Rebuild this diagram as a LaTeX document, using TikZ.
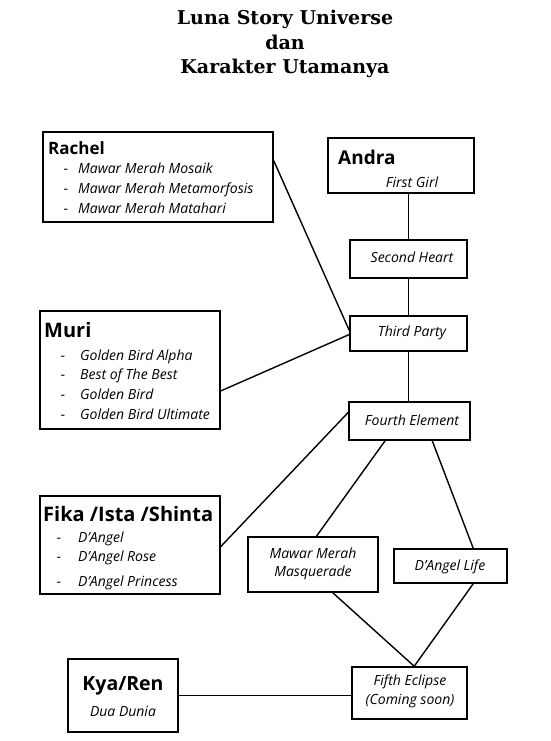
\documentclass[tikz,border=0pt]{standalone}
\usepackage{fontspec}
\setmainfont{Open Sans}
\newfontfamily\titlefont{DejaVu Serif}
\usetikzlibrary{positioning}

\begin{document}
\begin{tikzpicture}[x=1pt,y=-1pt,
  box/.style={draw,line width=1.5pt,inner sep=0pt},
  item/.style={inner sep=0pt,font=\fontsize{14}{17}\selectfont\itshape},
  bullet/.style={inner sep=0pt,anchor=base,font=\fontsize{14}{17}\selectfont},
  head/.style={inner sep=0pt,anchor=west,font=\fontsize{#1}{#1}\selectfont\bfseries},
  link/.style={line width=1.4pt}]
  \useasboundingbox (0,0) rectangle (550,741);

  \node[align=center,font=\titlefont\fontsize{19}{24.5}\selectfont\bfseries] (title)
    at (285,44) {Luna Story Universe\\dan\\Karakter Utamanya};

  % boxes
  \node[box,minimum width=230,minimum height=90] (rachel) at (158,177) {};
  \node[box,minimum width=146,minimum height=55] (andra) at (401,165.5) {};
  \node[box,minimum width=117,minimum height=38] (second) at (408.5,259) {};
  \node[box,minimum width=117,minimum height=35] (third) at (408.5,333.5) {};
  \node[box,minimum width=121,minimum height=38] (fourth) at (409.5,421) {};
  \node[box,minimum width=180,minimum height=118] (muri) at (130,370) {};
  \node[box,minimum width=180,minimum height=98] (fika) at (130,545) {};
  \node[box,minimum width=130,minimum height=55] (masq) at (313,564.5) {};
  \node[box,minimum width=113,minimum height=34] (dlife) at (450.5,566) {};
  \node[box,minimum width=115,minimum height=52] (fifth) at (409.5,693) {};
  \node[box,minimum width=110,minimum height=73] (kya) at (123,695.5) {};

  % texts
  \node[head=17] (rachel-name) at (48,148) {Rachel};
  \foreach \t/\y in {Mawar Merah Mosaik/173,Mawar Merah Metamorfosis/193,Mawar Merah Matahari/213}{%
    \node[bullet] at (66,\y) {-};
    \node[item,anchor=base west] at (78,\y) {\t};
  }
  \node[head=19] (andra-name) at (338,157) {Andra};
  \node[item] (andra-1) at (412,182) {First Girl};
  \node[item] (second-1) at (412,257) {Second Heart};
  \node[item] (third-1) at (412,333) {Third Party};
  \node[item] (fourth-1) at (412,420) {Fourth Element};

  \node[head=20] (muri-name) at (44,330) {Muri};
  \foreach \t/\y in {Golden Bird Alpha/360,Best of The Best/379,Golden Bird/399,Golden Bird Ultimate/419}{%
    \node[bullet] at (63,\y) {-};
    \node[item,anchor=base west] at (80,\y) {\t};
  }

  \node[head=20] (fika-name) at (43,514) {Fika /Ista /Shinta};
  \foreach \t/\y in {D’Angel/542,D’Angel Rose/561,D’Angel Princess/586}{%
    \node[bullet] at (59,\y) {-};
    \node[item,anchor=base west] at (78,\y) {\t};
  }

  \node[item,align=center] (masq-1) at (313,564) {Mawar Merah\\[1pt]Masquerade};
  \node[item] (dlife-1) at (450,567) {D’Angel Life};
  \node[item,align=center] (fifth-1) at (410,691) {Fifth Eclipse\\[2pt](Coming soon)};
  \node[head=19.5,anchor=center] (kya-name) at (123,686) {Kya/Ren};
  \node[item] (kya-1) at (123,711) {Dua Dunia};

  % links
  \draw[link] (andra.south -| second.north) -- (second.north);
  \draw[link] (second.south) -- (third.north);
  \draw[link] (third.south) -- (third.south |- fourth.north);
  \draw[link] (rachel.8.4) -- (third.177.5);
  \draw[link] (muri.-13.7) -- (third.181.5);
  \draw[link] (fika.-1.3) -- (fourth.172.5);
  \draw[link] (fourth.219) -- (masq.83.8);
  \draw[link] (fourth.-41.5) -- (dlife.38.3);
  \draw[link] (masq.-55.4) -- (fifth.80);
  \draw[link] (dlife.-38.3) -- (fifth.80);
  \draw[link] (kya.east) -- (kya.east -| fifth.west);
\end{tikzpicture}
\end{document}
